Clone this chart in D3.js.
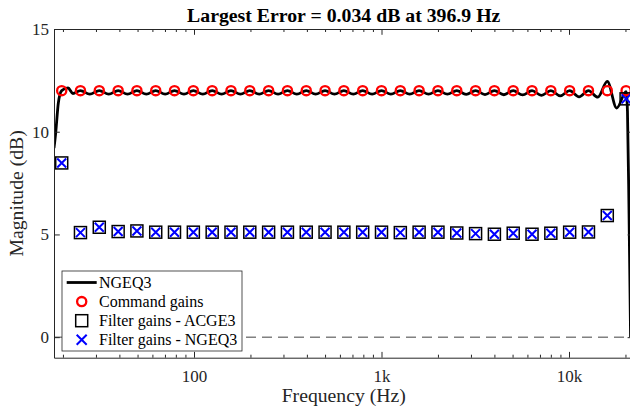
<!DOCTYPE html>
<html>
<head>
<meta charset="utf-8">
<script src="https://cdn.jsdelivr.net/npm/d3@7"></script>
<style>
	body { margin: 0; background: #fff; }
	svg text { font-family: "Liberation Serif", "Times New Roman", Times, serif; }
</style>
</head>
<body>
<svg id="chart" width="630" height="410"></svg>
<script>
// Third-octave band centre frequencies (Hz)
const bandFreqs = [19.7, 24.8, 31.25, 39.4, 49.6, 62.5, 78.7, 99.2, 125, 157.5, 198.4, 250, 315, 396.9, 500, 630, 793.7, 1000, 1260, 1587, 2000, 2520, 3175, 4000, 5040, 6350, 8000, 10079, 12699, 16000, 20159];
const commandGains = [12, 12, 12, 12, 12, 12, 12, 12, 12, 12, 12, 12, 12, 12, 12, 12, 12, 12, 12, 12, 12, 12, 12, 12, 12, 12, 12, 12, 12, 12, 12];
const acgeGains = [8.48, 5.09, 5.35, 5.14, 5.17, 5.11, 5.11, 5.11, 5.11, 5.11, 5.11, 5.11, 5.11, 5.11, 5.11, 5.11, 5.11, 5.11, 5.09, 5.11, 5.11, 5.07, 5.04, 5.01, 5.06, 5.01, 5.06, 5.11, 5.12, 5.92, 11.6];
const ngeqGains = [8.48, 5.09, 5.35, 5.14, 5.17, 5.11, 5.11, 5.11, 5.11, 5.11, 5.11, 5.11, 5.11, 5.11, 5.11, 5.11, 5.11, 5.11, 5.09, 5.11, 5.11, 5.07, 5.04, 5.01, 5.06, 5.01, 5.06, 5.11, 5.12, 5.92, 11.6];

// NGEQ3 magnitude response
const responseFreqs = [17.92, 18.3, 18.9, 19.7, 21.3, 22.6, 24.8, 27.8, 31.25, 35.1, 39.4, 44.2, 49.6, 55.7, 62.5, 70.2, 78.7, 88.4, 99.2, 111.4, 125, 140.3, 157.5, 176.8, 198.4, 222.7, 250, 280.6, 315, 353.6, 396.9, 445.5, 500, 561.2, 630, 707.1, 793.7, 890.9, 1000, 1122, 1260, 1414, 1587, 1782, 2000, 2245, 2520, 2828, 3175, 3564, 4000, 4490, 5040, 5657, 6350, 7127, 8000, 8980, 10079, 11314, 12699, 14254, 16000, 17959, 20159, 20500, 20900, 21300];
const responseGains = [9.2, 9.95, 11.4, 12.0, 12.13, 11.86, 12.0, 11.83, 12.0, 11.83, 12.0, 11.83, 12.0, 11.83, 12.0, 11.83, 12.0, 11.83, 12.0, 11.83, 12.0, 11.83, 12.0, 11.83, 12.0, 11.83, 12.0, 11.83, 12.0, 11.83, 12.0, 11.83, 12.0, 11.83, 12.0, 11.83, 12.0, 11.83, 12.0, 11.83, 12.0, 11.83, 12.0, 11.83, 12.0, 11.83, 12.0, 11.82, 12.0, 11.81, 12.0, 11.8, 12.0, 11.79, 12.0, 11.77, 12.0, 11.74, 12.0, 11.7, 12.0, 11.68, 12.45, 11.15, 11.95, 11.0, 6.0, 0.0];

const xMajorTicks = [100, 1000, 10000];
const xMajorLabels = ["100", "1k", "10k"];
const yTicks = [0, 5, 10, 15];
const legendLabels = ["NGEQ3", "Command gains", "Filter gains - ACGE3", "Filter gains - NGEQ3"];

const plot = { left: 54, right: 633.4, top: 29, bottom: 357.7 };
const axisColor = "#262626";
const serif = '"Liberation Serif", "Times New Roman", Times, serif';

const svg = d3.select("#chart");

const x = d3.scaleLog().domain([17.92, 22050]).range([plot.left, plot.right]);
const y = d3.scaleLinear().domain([-1, 15]).range([plot.bottom, plot.top]);

const minorTicks = [];
for (const decade of [10, 100, 1000, 10000]) {
	for (let k = 2; k <= 9; k++) {
		const f = decade * k;
		if (f >= 17.92 && f <= 22050) minorTicks.push(f);
	}
}

svg.append("defs").append("clipPath").attr("id", "plot-clip")
	.append("rect")
	.attr("x", plot.left).attr("y", plot.top)
	.attr("width", plot.right - plot.left).attr("height", plot.bottom - plot.top);

const g = svg.append("g").attr("clip-path", "url(#plot-clip)");

// Zero reference line
g.append("line")
	.attr("x1", plot.left).attr("x2", plot.right)
	.attr("y1", y(0)).attr("y2", y(0))
	.attr("stroke", "#404040")
	.attr("stroke-width", 1)
	.attr("stroke-dasharray", "10,6");

// Response curve
const responseData = responseFreqs.map((f, i) => ({ f, v: responseGains[i] }));
g.append("path")
	.datum(responseData)
	.attr("fill", "none")
	.attr("stroke", "#000")
	.attr("stroke-width", 2.8)
	.attr("d", d3.line().x((d) => x(d.f)).y((d) => y(d.v)).curve(d3.curveMonotoneX));

// Command gains (circles)
g.selectAll(".cmd")
	.data(bandFreqs.map((f, i) => ({ f, v: commandGains[i] })))
	.enter().append("circle")
	.attr("class", "cmd")
	.attr("cx", (d) => x(d.f)).attr("cy", (d) => y(d.v))
	.attr("r", 4.6)
	.attr("fill", "none").attr("stroke", "#ff0000").attr("stroke-width", 2.3);

// ACGE3 filter gains (squares)
g.selectAll(".acge")
	.data(bandFreqs.map((f, i) => ({ f, v: acgeGains[i] })))
	.enter().append("rect")
	.attr("class", "acge")
	.attr("x", (d) => x(d.f) - 6).attr("y", (d) => y(d.v) - 6)
	.attr("width", 12).attr("height", 12)
	.attr("fill", "none").attr("stroke", "#000").attr("stroke-width", 1.5);

// NGEQ3 filter gains (crosses)
function crossPath(cx, cy, s) {
	return `M${cx - s},${cy - s}L${cx + s},${cy + s}M${cx - s},${cy + s}L${cx + s},${cy - s}`;
}
g.selectAll(".ngeq")
	.data(bandFreqs.map((f, i) => ({ f, v: ngeqGains[i] })))
	.enter().append("path")
	.attr("class", "ngeq")
	.attr("d", (d) => crossPath(x(d.f), y(d.v), 4.5))
	.attr("fill", "none").attr("stroke", "#0000ff").attr("stroke-width", 2);

// Axes (MATLAB style, ticks inward, box)
function styleAxis(sel) {
	sel.attr("font-family", serif);
	sel.select(".domain").attr("stroke", axisColor).attr("stroke-width", 1);
	sel.selectAll(".tick line").attr("stroke", axisColor).attr("stroke-width", 1);
	sel.selectAll("text")
		.attr("fill", axisColor)
		.attr("font-family", serif)
		.attr("font-size", 17);
}

const xAxis = svg.append("g")
	.attr("transform", `translate(0,${plot.bottom})`)
	.call(d3.axisBottom(x).tickValues(xMajorTicks)
		.tickFormat((d, i) => xMajorLabels[i])
		.tickSizeInner(-5.8).tickSizeOuter(0).tickPadding(12));
styleAxis(xAxis);

svg.append("g")
	.attr("transform", `translate(0,${plot.bottom})`)
	.call(d3.axisBottom(x).tickValues(minorTicks).tickFormat("")
		.tickSizeInner(-3).tickSizeOuter(0))
	.call((s) => s.select(".domain").remove())
	.call(styleAxis);

const xTop = svg.append("g")
	.attr("transform", `translate(0,${plot.top})`)
	.call(d3.axisTop(x).tickValues(xMajorTicks).tickFormat("")
		.tickSizeInner(-5.8).tickSizeOuter(0));
styleAxis(xTop);

svg.append("g")
	.attr("transform", `translate(0,${plot.top})`)
	.call(d3.axisTop(x).tickValues(minorTicks).tickFormat("")
		.tickSizeInner(-3).tickSizeOuter(0))
	.call((s) => s.select(".domain").remove())
	.call(styleAxis);

const yAxis = svg.append("g")
	.attr("transform", `translate(${plot.left},0)`)
	.call(d3.axisLeft(y).tickValues(yTicks)
		.tickSizeInner(-5.8).tickSizeOuter(0).tickPadding(5));
styleAxis(yAxis);

svg.append("g")
	.attr("transform", `translate(${plot.right},0)`)
	.call(d3.axisRight(y).tickValues(yTicks).tickFormat("")
		.tickSizeInner(-5.8).tickSizeOuter(0))
	.call(styleAxis);

// Title and axis labels
svg.append("text")
	.attr("x", (plot.left + plot.right) / 2).attr("y", 22)
	.attr("text-anchor", "middle")
	.attr("font-family", serif)
	.attr("font-size", 19.8).attr("font-weight", "bold")
	.attr("fill", "#000")
	.text("Largest Error = 0.034 dB at 396.9 Hz");

svg.append("text")
	.attr("x", (plot.left + plot.right) / 2).attr("y", 402)
	.attr("text-anchor", "middle")
	.attr("font-family", serif)
	.attr("font-size", 19.7)
	.attr("fill", axisColor)
	.text("Frequency (Hz)");

svg.append("text")
	.attr("transform", `translate(23,${(plot.top + plot.bottom) / 2}) rotate(-90)`)
	.attr("text-anchor", "middle")
	.attr("font-family", serif)
	.attr("font-size", 19.7)
	.attr("fill", axisColor)
	.text("Magnitude (dB)");

// Legend
const legend = svg.append("g").attr("transform", "translate(62,271)");
legend.append("rect")
	.attr("width", 180).attr("height", 80)
	.attr("fill", "#fff").attr("stroke", axisColor).attr("stroke-width", 0.8);

const rowY = [11.5, 30.6, 49.7, 68.8];
legendLabels.forEach((label, i) => {
	const row = legend.append("g").attr("transform", `translate(0,${rowY[i]})`);
	const mx = 19.7;
	if (i === 0) {
		row.append("line").attr("x1", 4.7).attr("x2", 34.7)
			.attr("stroke", "#000").attr("stroke-width", 2.8);
	} else if (i === 1) {
		row.append("circle").attr("cx", mx).attr("r", 4.6)
			.attr("fill", "none").attr("stroke", "#ff0000").attr("stroke-width", 2.3);
	} else if (i === 2) {
		row.append("rect").attr("x", mx - 6).attr("y", -6).attr("width", 12).attr("height", 12)
			.attr("fill", "none").attr("stroke", "#000").attr("stroke-width", 1.5);
	} else {
		row.append("path").attr("d", crossPath(mx, 0, 5))
			.attr("fill", "none").attr("stroke", "#0000ff").attr("stroke-width", 2);
	}
	row.append("text")
		.attr("x", 37).attr("dy", "0.35em")
		.attr("font-family", serif)
		.attr("font-size", 16)
		.attr("fill", "#000")
		.text(label);
});
</script>
</body>
</html>
